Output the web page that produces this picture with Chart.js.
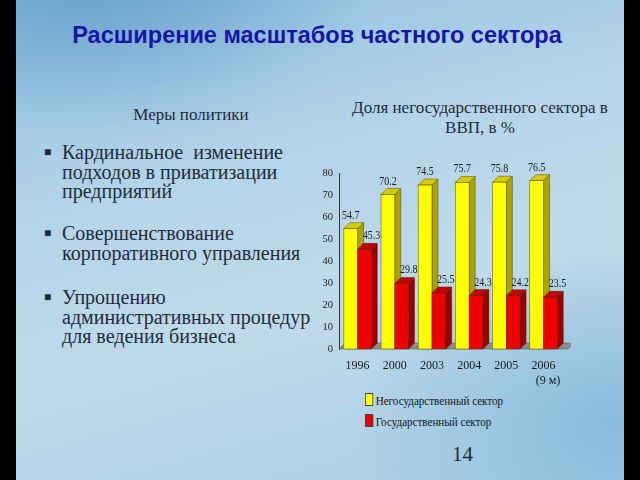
<!DOCTYPE html>
<html>
<head>
<meta charset="utf-8">
<script src="https://cdn.jsdelivr.net/npm/chart.js@4/dist/chart.umd.min.js"></script>
<style>
  html, body { margin: 0; padding: 0; background: #000; }
  #slide {
    position: absolute; left: 16px; top: 0; width: 608px; height: 480px; overflow: hidden;
    background:
      radial-gradient(ellipse 420px 260px at 80px -40px, rgba(60,130,185,0.55), rgba(60,130,185,0) 70%),
      radial-gradient(ellipse 380px 240px at 600px 420px, rgba(90,160,205,0.45), rgba(90,160,205,0) 70%),
      linear-gradient(165deg, #90bfdf 0%, #b4d4e9 35%, #bfdaeb 60%, #a9cde4 100%);
  }
  .t { position: absolute; white-space: nowrap; }
  #title { left: 0; width: 602px; top: 22px; text-align: center; font: bold 23.5px "Liberation Sans", Arial, sans-serif; color: #1616a4; }
  #measures { left: 100px; width: 150px; top: 105px; text-align: center; font: 17px "Liberation Serif", serif; color: #222c3a; }
  .bul { position: absolute; left: 46px; font: 20px/19.5px "Liberation Serif", serif; color: #222c3a; }
  .bul span.m { position: absolute; left: -18px; top: 0; font-size: 12px; }
  #ctitle { left: 330px; width: 268px; top: 98px; text-align: center; font: 17px/20px "Liberation Serif", serif; color: #222c3a; }
  #legend { left: 349px; top: 390px; font: 13.5px/21px "Liberation Serif", serif; color: #101820; transform: scaleX(0.82); transform-origin: left; }
  #legend i { display: inline-block; width: 8px; height: 11px; margin-right: 3px; vertical-align: -1px; border: 1px solid #444; }
  #page { left: 436px; top: 442px; font: 21px "Liberation Serif", serif; color: #222c3a; }
  #wrap { position: absolute; left: 277px; top: 153px; width: 278px; height: 236px; }
</style>
</head>
<body>
<div id="slide">
  <div class="t" id="title">Расширение масштабов частного сектора</div>
  <div class="t" id="measures">Меры политики</div>
  <div class="bul" style="top:143px"><span class="m">■</span>Кардинальное&nbsp; изменение<br>подходов в приватизации<br>предприятий</div>
  <div class="bul" style="top:224px"><span class="m">■</span>Совершенствование<br>корпоративного управления</div>
  <div class="bul" style="top:288px"><span class="m">■</span>Упрощению<br>административных процедур<br>для ведения бизнеса</div>
  <div class="t" id="ctitle">Доля негосударственного сектора в<br>ВВП, в %</div>
  <div class="t" id="legend"><i style="background:#ffff00"></i>Негосударственный сектор<br><i style="background:#ee0000"></i>Государственный сектор</div>
  <div class="t" id="page">14</div>
  <div id="wrap"><canvas id="chart"></canvas></div>
</div>
<script>
const years = [['1996'], ['2000'], ['2003'], ['2004'], ['2005'], ['2006', '   (9 м)']];
const privateShare = [54.7, 70.2, 74.5, 75.7, 75.8, 76.5];
const stateShare = [45.3, 29.8, 25.5, 24.3, 24.2, 23.5];
const seriesNames = ['Негосударственный сектор', 'Государственный сектор'];

const DEPTH = 6;
const faces = [
    { front: '#ffff00', side: '#aca400', top: '#d4cc00' },
    { front: '#ee0000', side: '#980000', top: '#c00000' }
];

// fake 3D: redraw each bar with a side and a top face, category by category
const bars3d = {
    id: 'bars3d',
    beforeDatasetsDraw(chart) {
        const ctx = chart.ctx;
        const area = chart.chartArea;
        const y0 = chart.scales.y.getPixelForValue(0);
        ctx.save();
        ctx.fillStyle = '#8a8e92';
        ctx.strokeStyle = '#555';
        ctx.lineWidth = 0.5;
        ctx.beginPath();
        ctx.moveTo(area.left, y0);
        ctx.lineTo(area.left + DEPTH, y0 - DEPTH);
        ctx.lineTo(area.right + 12, y0 - DEPTH);
        ctx.lineTo(area.right + 12 - DEPTH, y0);
        ctx.closePath();
        ctx.fill();
        ctx.stroke();
        ctx.restore();
    },
    afterDatasetsDraw(chart) {
        const ctx = chart.ctx;
        const n = chart.data.labels.length;
        ctx.save();
        ctx.lineWidth = 0.6;
        ctx.strokeStyle = 'rgba(60,40,0,0.7)';
        for (let i = 0; i < n; i++) {
            chart.data.datasets.forEach((ds, d) => {
                const bar = chart.getDatasetMeta(d).data[i];
                const p = bar.getProps(['x', 'y', 'base', 'width'], true);
                const l = p.x - p.width / 2, r = p.x + p.width / 2;
                const f = faces[d];
                ctx.fillStyle = f.side;
                ctx.beginPath();
                ctx.moveTo(r, p.y); ctx.lineTo(r + DEPTH, p.y - DEPTH);
                ctx.lineTo(r + DEPTH, p.base - DEPTH); ctx.lineTo(r, p.base);
                ctx.closePath(); ctx.fill(); ctx.stroke();
                ctx.fillStyle = f.top;
                ctx.beginPath();
                ctx.moveTo(l, p.y); ctx.lineTo(l + DEPTH, p.y - DEPTH);
                ctx.lineTo(r + DEPTH, p.y - DEPTH); ctx.lineTo(r, p.y);
                ctx.closePath(); ctx.fill(); ctx.stroke();
                ctx.fillStyle = f.front;
                ctx.fillRect(l, p.y, p.width, p.base - p.y);
                ctx.strokeRect(l, p.y, p.width, p.base - p.y);
            });
        }
        // value labels
        ctx.fillStyle = '#1a1a1a';
        ctx.font = '12.5px "Liberation Serif", serif';
        ctx.textAlign = 'center';
        ctx.textBaseline = 'bottom';
        chart.data.datasets.forEach((ds, d) => {
            chart.getDatasetMeta(d).data.forEach((bar, i) => {
                const dx = d === 0 ? 0 : 7;
                ctx.save();
                ctx.translate(bar.x + dx, bar.y - DEPTH - 1);
                ctx.scale(0.8, 1);
                ctx.fillText(String(ds.data[i]), 0, 0);
                ctx.restore();
            });
        });
        ctx.restore();
    }
};

new Chart(document.getElementById('chart'), {
    type: 'bar',
    data: {
        labels: years,
        datasets: [
            { label: seriesNames[0], data: privateShare, backgroundColor: faces[0].front },
            { label: seriesNames[1], data: stateShare, backgroundColor: faces[1].front }
        ]
    },
    options: {
        responsive: true,
        maintainAspectRatio: false,
        animation: false,
        layout: { padding: { top: 20, right: 8, left: 20, bottom: 0 } },
        categoryPercentage: 0.74,
        barPercentage: 1.0,
        plugins: { legend: { display: false }, tooltip: { enabled: false } },
        scales: {
            x: {
                grid: { display: false, drawTicks: false },
                border: { display: false },
                ticks: {
                    color: '#1a1a1a', font: { family: 'Liberation Serif', size: 12 }, padding: 10,
                    autoSkip: false, maxRotation: 0, minRotation: 0
                },
                afterFit(scale) { scale.height = 40; }
            },
            y: {
                min: 0, max: 80,
                ticks: { stepSize: 10, color: '#1a1a1a', font: { family: 'Liberation Serif', size: 10.5 }, padding: 3 },
                grid: { display: false, drawTicks: true, tickLength: 3, tickColor: '#333' },
                border: { display: true, color: '#333', width: 1 },
                afterFit(scale) { scale.width = 26; }
            }
        }
    },
    plugins: [bars3d]
});
</script>
</body>
</html>
